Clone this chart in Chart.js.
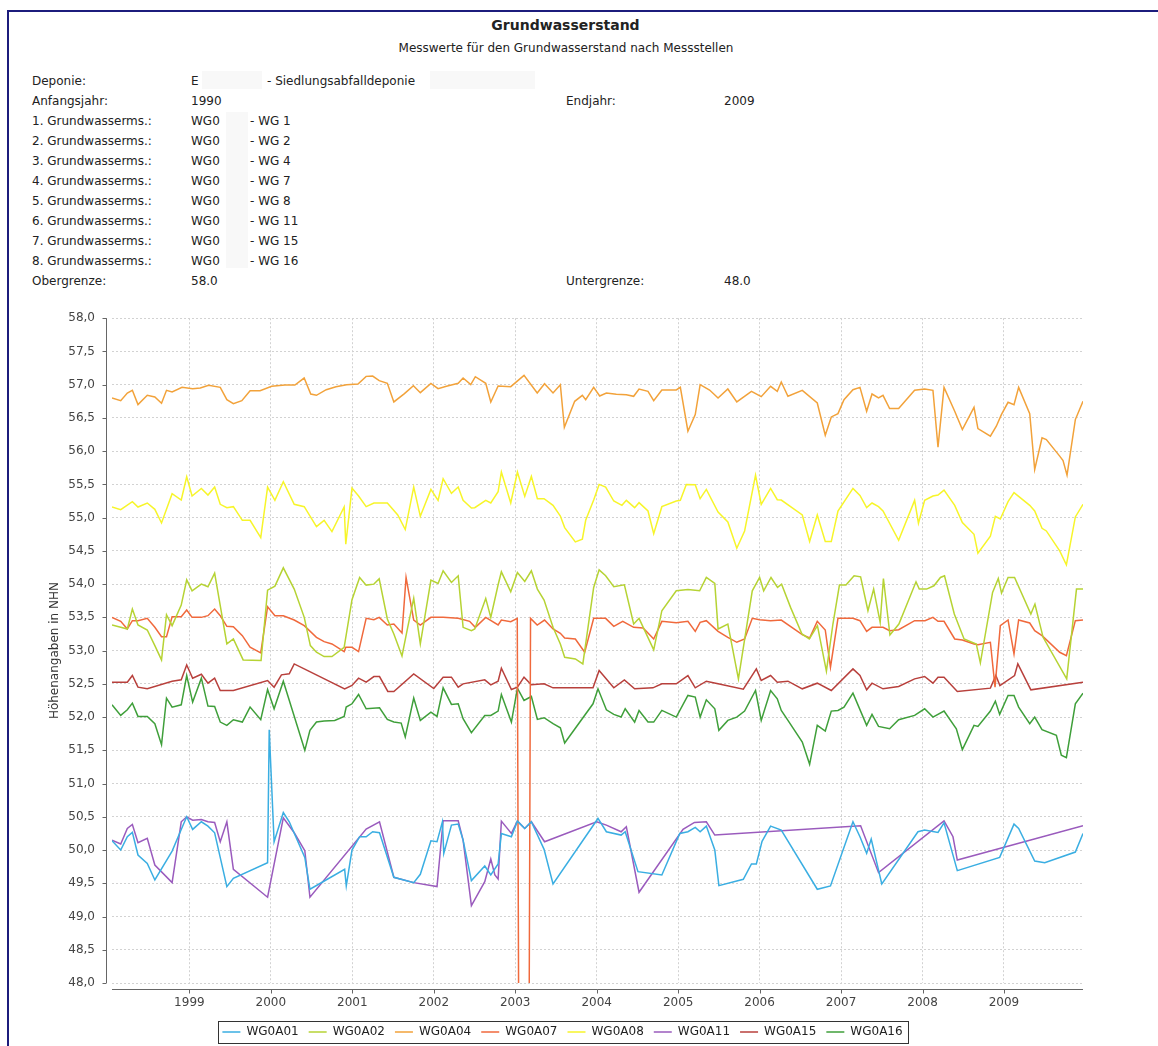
<!DOCTYPE html>
<html>
<head>
<meta charset="utf-8">
<title>Grundwasserstand</title>
<script src="https://cdn.jsdelivr.net/npm/chart.js"></script>
<style>
    body { margin: 0; background: #fff; font-family: "DejaVu Sans", sans-serif; color: #222; }
    #page { position: absolute; left: 0; top: 0; width: 1158px; height: 1046px; overflow: hidden; }
    #frame { position: absolute; left: 7px; top: 10px; width: 1300px; height: 1200px;
             border-top: 2px solid #1c1c7c; border-left: 2px solid #1c1c7c; }
    .t { position: absolute; font-size: 12px; line-height: 14px; white-space: nowrap; }
    .hide { position: absolute; background: #f8f8f8; height: 18px; }
    #title { position: absolute; left: 0; width: 1131px; top: 17px; text-align: center;
             font-weight: bold; font-size: 14px; }
    #subtitle { position: absolute; left: 0; width: 1132px; top: 41px; text-align: center; font-size: 12px; }
    #chartBox { position: absolute; left: 0; top: 294px; }
</style>
</head>
<body>
<div id="page">
    <div id="frame"></div>
    <div id="title">Grundwasserstand</div>
    <div id="subtitle">Messwerte für den Grundwasserstand nach Messstellen</div>

    <div class="hide" style="left:202px; top:71px; width:60px"></div>
    <div class="hide" style="left:430px; top:71px; width:105px"></div>
    <div class="hide" style="left:226px; top:112px; width:22px; height:156px"></div>

    <div class="t" style="left:32px; top:74px">Deponie:</div>
    <div class="t" style="left:191px; top:74px">E</div>
    <div class="t" style="left:267px; top:74px">- Siedlungsabfalldeponie</div>
    <div class="t" style="left:32px; top:94px">Anfangsjahr:</div>
    <div class="t" style="left:191px; top:94px">1990</div>
    <div class="t" style="left:566px; top:94px">Endjahr:</div>
    <div class="t" style="left:724px; top:94px">2009</div>
    <div class="t" style="left:32px; top:114px">1. Grundwasserms.:</div>
    <div class="t" style="left:191px; top:114px">WG0</div>
    <div class="t" style="left:250px; top:114px">- WG 1</div>
    <div class="t" style="left:32px; top:134px">2. Grundwasserms.:</div>
    <div class="t" style="left:191px; top:134px">WG0</div>
    <div class="t" style="left:250px; top:134px">- WG 2</div>
    <div class="t" style="left:32px; top:154px">3. Grundwasserms.:</div>
    <div class="t" style="left:191px; top:154px">WG0</div>
    <div class="t" style="left:250px; top:154px">- WG 4</div>
    <div class="t" style="left:32px; top:174px">4. Grundwasserms.:</div>
    <div class="t" style="left:191px; top:174px">WG0</div>
    <div class="t" style="left:250px; top:174px">- WG 7</div>
    <div class="t" style="left:32px; top:194px">5. Grundwasserms.:</div>
    <div class="t" style="left:191px; top:194px">WG0</div>
    <div class="t" style="left:250px; top:194px">- WG 8</div>
    <div class="t" style="left:32px; top:214px">6. Grundwasserms.:</div>
    <div class="t" style="left:191px; top:214px">WG0</div>
    <div class="t" style="left:250px; top:214px">- WG 11</div>
    <div class="t" style="left:32px; top:234px">7. Grundwasserms.:</div>
    <div class="t" style="left:191px; top:234px">WG0</div>
    <div class="t" style="left:250px; top:234px">- WG 15</div>
    <div class="t" style="left:32px; top:254px">8. Grundwasserms.:</div>
    <div class="t" style="left:191px; top:254px">WG0</div>
    <div class="t" style="left:250px; top:254px">- WG 16</div>
    <div class="t" style="left:32px; top:274px">Obergrenze:</div>
    <div class="t" style="left:191px; top:274px">58.0</div>
    <div class="t" style="left:566px; top:274px">Untergrenze:</div>
    <div class="t" style="left:724px; top:274px">48.0</div>

    <div id="chartBox"><canvas id="levels" width="1158" height="754"></canvas></div>
</div>

<script>
    // measurement dates (decimal years) and levels per well
    const a01Years = [1998.05, 1998.157, 1998.238, 1998.30, 1998.369, 1998.483, 1998.576, 1998.788, 1998.90, 1998.967, 1999.04, 1999.147, 1999.228, 1999.31, 1999.46, 1999.54, 1999.96, 1999.98, 2000.04, 2000.153, 2000.226, 2000.417, 2000.48, 2000.906, 2000.926, 2000.996, 2001.09, 2001.17, 2001.25, 2001.334, 2001.51, 2001.754, 2001.835, 2001.965, 2002.04, 2002.106, 2002.123, 2002.217, 2002.30, 2002.36, 2002.462, 2002.626, 2002.70, 2002.79, 2002.83, 2002.953, 2003.027, 2003.117, 2003.198, 2003.354, 2003.464, 2004.016, 2004.119, 2004.30, 2004.35, 2004.507, 2004.80, 2005.02, 2005.12, 2005.21, 2005.27, 2005.346, 2005.45, 2005.50, 2005.80, 2005.90, 2005.96, 2006.03, 2006.135, 2006.266, 2006.708, 2006.87, 2007.146, 2007.232, 2007.314, 2007.37, 2007.50, 2007.944, 2008.026, 2008.19, 2008.264, 2008.427, 2008.947, 2009.123, 2009.18, 2009.377, 2009.50, 2009.876, 2009.97];
    const a01Values = [50.14, 50.00, 50.20, 50.265, 49.925, 49.80, 49.55, 49.985, 50.31, 50.50, 50.31, 50.425, 50.36, 50.26, 49.45, 49.575, 49.81, 51.81, 50.125, 50.565, 50.425, 49.89, 49.41, 49.71, 49.46, 50.00, 50.20, 50.20, 50.275, 50.26, 49.59, 49.51, 49.635, 50.14, 50.125, 50.425, 49.95, 50.375, 50.39, 50.15, 49.54, 49.76, 49.625, 49.79, 50.25, 50.20, 50.435, 50.325, 50.425, 50.01, 49.49, 50.475, 50.275, 50.225, 50.275, 49.675, 49.625, 50.25, 50.275, 50.34, 50.275, 50.36, 50.00, 49.465, 49.56, 49.79, 49.79, 50.13, 50.36, 50.30, 49.41, 49.46, 50.425, 50.20, 49.95, 50.165, 49.49, 50.275, 50.30, 50.265, 50.41, 49.69, 49.89, 50.39, 50.325, 49.835, 49.81, 49.97, 50.25];

    const a02Years = [1998.05, 1998.157, 1998.238, 1998.30, 1998.369, 1998.483, 1998.576, 1998.658, 1998.719, 1998.788, 1998.90, 1998.967, 1999.033, 1999.147, 1999.228, 1999.31, 1999.46, 1999.54, 1999.66, 1999.88, 1999.96, 2000.05, 2000.153, 2000.287, 2000.41, 2000.485, 2000.56, 2000.654, 2000.75, 2000.90, 2000.996, 2001.09, 2001.17, 2001.265, 2001.33, 2001.43, 2001.51, 2001.61, 2001.68, 2001.754, 2001.835, 2001.965, 2002.053, 2002.115, 2002.217, 2002.30, 2002.36, 2002.462, 2002.503, 2002.638, 2002.70, 2002.79, 2002.83, 2002.945, 2003.027, 2003.117, 2003.198, 2003.272, 2003.354, 2003.464, 2003.554, 2003.607, 2003.738, 2003.83, 2003.963, 2004.03, 2004.11, 2004.21, 2004.34, 2004.454, 2004.52, 2004.70, 2004.80, 2004.977, 2005.12, 2005.264, 2005.346, 2005.45, 2005.49, 2005.61, 2005.74, 2005.91, 2006.0, 2006.05, 2006.14, 2006.22, 2006.27, 2006.38, 2006.52, 2006.61, 2006.71, 2006.82, 2006.90, 2006.98, 2007.06, 2007.16, 2007.24, 2007.33, 2007.40, 2007.48, 2007.52, 2007.60, 2007.71, 2007.92, 2007.96, 2008.05, 2008.14, 2008.22, 2008.27, 2008.39, 2008.51, 2008.66, 2008.71, 2008.86, 2008.93, 2008.97, 2009.05, 2009.13, 2009.33, 2009.38, 2009.48, 2009.77, 2009.89, 2009.97];
    const a02Values = [53.385, 53.35, 53.325, 53.625, 53.385, 53.31, 53.075, 52.86, 53.54, 53.375, 53.685, 54.065, 53.90, 54.0, 53.96, 54.165, 53.10, 53.175, 52.86, 52.85, 53.91, 53.97, 54.245, 53.925, 53.50, 53.075, 52.975, 52.91, 52.91, 53.05, 53.765, 54.10, 53.985, 54.0, 54.08, 53.475, 53.25, 52.92, 53.35, 53.785, 53.10, 54.06, 54.01, 54.20, 54.025, 54.125, 53.35, 53.30, 53.325, 53.785, 53.50, 53.99, 54.185, 53.885, 54.175, 54.04, 54.20, 53.925, 53.76, 53.35, 53.10, 52.90, 52.875, 52.80, 53.95, 54.215, 54.125, 53.96, 53.99, 53.40, 53.485, 53.01, 53.60, 53.90, 53.92, 53.90, 54.10, 54.01, 53.325, 53.40, 52.575, 53.90, 54.10, 53.90, 54.10, 53.95, 54.0, 53.65, 53.25, 53.175, 53.375, 52.69, 53.40, 53.985, 53.985, 54.125, 54.11, 53.60, 53.925, 53.425, 54.085, 53.235, 53.40, 54.035, 53.925, 53.925, 53.975, 54.10, 54.125, 53.55, 53.175, 53.10, 52.815, 53.875, 54.085, 53.865, 54.10, 54.10, 53.55, 53.70, 53.20, 52.575, 53.925, 53.925];

    const a04Years = [1998.05, 1998.157, 1998.238, 1998.30, 1998.369, 1998.483, 1998.576, 1998.658, 1998.719, 1998.788, 1998.91, 1999.04, 1999.134, 1999.236, 1999.379, 1999.46, 1999.54, 1999.644, 1999.745, 1999.868, 2000.01, 2000.173, 2000.295, 2000.409, 2000.49, 2000.56, 2000.68, 2000.80, 2000.93, 2001.07, 2001.17, 2001.25, 2001.33, 2001.43, 2001.51, 2001.64, 2001.75, 2001.835, 2001.965, 2002.053, 2002.155, 2002.30, 2002.36, 2002.454, 2002.51, 2002.638, 2002.70, 2002.79, 2002.945, 2003.108, 2003.27, 2003.36, 2003.464, 2003.554, 2003.603, 2003.73, 2003.824, 2003.865, 2003.963, 2004.037, 2004.119, 2004.241, 2004.364, 2004.454, 2004.52, 2004.63, 2004.70, 2004.80, 2004.977, 2005.027, 2005.12, 2005.21, 2005.27, 2005.386, 2005.49, 2005.61, 2005.72, 2005.90, 2006.02, 2006.135, 2006.217, 2006.266, 2006.348, 2006.524, 2006.708, 2006.806, 2006.88, 2006.962, 2007.036, 2007.146, 2007.232, 2007.314, 2007.38, 2007.46, 2007.515, 2007.596, 2007.707, 2007.903, 2008.026, 2008.128, 2008.19, 2008.264, 2008.395, 2008.489, 2008.632, 2008.68, 2008.833, 2008.906, 2008.968, 2009.05, 2009.123, 2009.18, 2009.316, 2009.377, 2009.467, 2009.52, 2009.684, 2009.725, 2009.774, 2009.876, 2009.97];
    const a04Values = [56.80, 56.76, 56.875, 56.915, 56.70, 56.84, 56.815, 56.72, 56.915, 56.89, 56.96, 56.94, 56.95, 56.99, 56.96, 56.775, 56.715, 56.76, 56.91, 56.91, 56.975, 56.995, 56.995, 57.10, 56.86, 56.84, 56.925, 56.97, 57.0, 57.01, 57.125, 57.13, 57.06, 57.02, 56.74, 56.865, 56.985, 56.88, 57.02, 56.94, 56.975, 57.02, 57.10, 57.0, 57.12, 57.02, 56.74, 56.98, 56.97, 57.14, 56.875, 57.015, 56.875, 57.0, 56.36, 56.75, 56.84, 56.775, 56.96, 56.83, 56.875, 56.855, 56.85, 56.825, 56.935, 56.90, 56.76, 56.92, 56.92, 56.96, 56.30, 56.55, 57.0, 56.92, 56.80, 56.935, 56.74, 56.90, 56.82, 56.975, 56.90, 57.04, 56.825, 56.915, 56.725, 56.24, 56.515, 56.565, 56.775, 56.925, 56.96, 56.60, 56.86, 56.80, 56.84, 56.64, 56.64, 56.915, 56.935, 56.915, 56.06, 56.96, 56.60, 56.325, 56.66, 56.34, 56.225, 56.375, 56.55, 56.735, 56.70, 56.96, 56.565, 55.725, 56.20, 56.175, 55.925, 55.86, 55.64, 56.475, 56.75];

    // the 2003 reading of WG0A07 lies far below the axis range and is clipped
    const a07Years = [1998.05, 1998.157, 1998.238, 1998.30, 1998.369, 1998.483, 1998.576, 1998.658, 1998.719, 1998.788, 1998.90, 1998.967, 1999.033, 1999.147, 1999.228, 1999.31, 1999.379, 1999.46, 1999.54, 1999.65, 1999.745, 1999.876, 1999.96, 2000.05, 2000.153, 2000.287, 2000.41, 2000.56, 2000.654, 2000.75, 2000.90, 2000.92, 2000.996, 2001.077, 2001.17, 2001.265, 2001.33, 2001.43, 2001.51, 2001.61, 2001.66, 2001.754, 2001.835, 2001.965, 2002.115, 2002.30, 2002.44, 2002.51, 2002.638, 2002.79, 2002.83, 2002.945, 2003.025, 2003.107, 2003.188, 2003.27, 2003.36, 2003.464, 2003.554, 2003.607, 2003.738, 2003.853, 2003.963, 2004.11, 2004.21, 2004.32, 2004.454, 2004.57, 2004.70, 2004.80, 2004.977, 2005.12, 2005.21, 2005.27, 2005.346, 2005.49, 2005.61, 2005.72, 2005.816, 2005.91, 2006.0, 2006.135, 2006.266, 2006.524, 2006.614, 2006.708, 2006.806, 2006.87, 2006.962, 2007.146, 2007.232, 2007.314, 2007.38, 2007.515, 2007.596, 2007.707, 2007.903, 2008.03, 2008.128, 2008.19, 2008.264, 2008.395, 2008.489, 2008.632, 2008.68, 2008.833, 2008.89, 2008.955, 2009.05, 2009.123, 2009.18, 2009.316, 2009.377, 2009.467, 2009.684, 2009.766, 2009.876, 2009.97];
    const a07Values = [53.50, 53.44, 53.325, 53.45, 53.45, 53.485, 53.35, 53.21, 53.21, 53.51, 53.51, 53.61, 53.50, 53.50, 53.525, 53.625, 53.525, 53.365, 53.36, 53.225, 53.05, 52.965, 53.66, 53.525, 53.525, 53.46, 53.375, 53.20, 53.135, 53.10, 52.985, 53.05, 53.05, 52.985, 53.485, 53.465, 53.50, 53.385, 53.40, 53.265, 54.10, 53.46, 53.385, 53.50, 53.50, 53.485, 53.44, 53.35, 53.50, 53.385, 53.46, 53.435, 53.485, 25.5, 53.485, 53.385, 53.46, 53.325, 53.26, 53.19, 53.175, 52.975, 53.485, 53.485, 53.365, 53.44, 53.35, 53.34, 53.175, 53.44, 53.42, 53.44, 53.29, 53.425, 53.45, 53.29, 53.20, 53.125, 53.175, 53.485, 53.465, 53.45, 53.46, 53.24, 53.19, 53.44, 53.31, 52.75, 53.485, 53.485, 53.45, 53.29, 53.35, 53.35, 53.30, 53.315, 53.45, 53.45, 53.50, 53.44, 53.44, 53.175, 53.16, 53.10, 53.09, 53.125, 52.45, 53.375, 53.46, 52.95, 53.46, 53.415, 53.30, 53.225, 52.975, 52.925, 53.45, 53.46];

    const a08Years = [1998.05, 1998.157, 1998.30, 1998.369, 1998.483, 1998.576, 1998.658, 1998.788, 1998.90, 1998.967, 1999.033, 1999.147, 1999.228, 1999.31, 1999.379, 1999.46, 1999.54, 1999.65, 1999.745, 1999.876, 1999.96, 2000.05, 2000.153, 2000.287, 2000.41, 2000.56, 2000.654, 2000.75, 2000.90, 2000.92, 2000.996, 2001.077, 2001.17, 2001.265, 2001.43, 2001.558, 2001.65, 2001.754, 2001.835, 2001.965, 2002.053, 2002.115, 2002.217, 2002.30, 2002.36, 2002.462, 2002.503, 2002.638, 2002.70, 2002.79, 2002.83, 2002.945, 2003.027, 2003.117, 2003.198, 2003.272, 2003.354, 2003.464, 2003.554, 2003.607, 2003.738, 2003.824, 2003.865, 2003.963, 2004.03, 2004.11, 2004.21, 2004.31, 2004.364, 2004.466, 2004.52, 2004.63, 2004.70, 2004.80, 2004.977, 2005.027, 2005.10, 2005.21, 2005.27, 2005.346, 2005.49, 2005.61, 2005.72, 2005.816, 2005.95, 2006.02, 2006.135, 2006.217, 2006.266, 2006.524, 2006.614, 2006.708, 2006.806, 2006.88, 2006.962, 2007.146, 2007.232, 2007.314, 2007.38, 2007.46, 2007.515, 2007.707, 2007.903, 2007.95, 2008.026, 2008.128, 2008.19, 2008.264, 2008.395, 2008.489, 2008.632, 2008.68, 2008.833, 2008.894, 2008.955, 2009.05, 2009.123, 2009.316, 2009.377, 2009.467, 2009.52, 2009.684, 2009.766, 2009.876, 2009.97];
    const a08Values = [55.16, 55.12, 55.24, 55.16, 55.22, 55.125, 54.92, 55.36, 55.265, 55.615, 55.325, 55.44, 55.34, 55.46, 55.20, 55.15, 55.165, 54.96, 54.96, 54.70, 55.46, 55.26, 55.54, 55.20, 55.165, 54.865, 54.96, 54.79, 55.16, 54.60, 55.445, 55.325, 55.165, 55.22, 55.22, 55.04, 54.82, 55.46, 55.02, 55.425, 55.26, 55.585, 55.365, 55.46, 55.26, 55.145, 55.15, 55.26, 55.22, 55.39, 55.685, 55.22, 55.685, 55.32, 55.62, 55.285, 55.285, 55.185, 55.025, 54.85, 54.635, 54.675, 54.96, 55.265, 55.50, 55.46, 55.25, 55.185, 55.26, 55.15, 55.225, 55.10, 54.76, 55.165, 55.25, 55.26, 55.50, 55.495, 55.285, 55.425, 55.085, 54.935, 54.54, 54.80, 55.64, 55.20, 55.44, 55.27, 55.265, 55.04, 54.64, 55.04, 54.64, 54.64, 55.10, 55.44, 55.335, 55.15, 55.22, 55.165, 55.10, 54.66, 55.26, 54.915, 55.26, 55.325, 55.34, 55.415, 55.185, 54.925, 54.75, 54.465, 54.72, 55.02, 54.98, 55.24, 55.375, 55.185, 55.10, 54.84, 54.80, 54.50, 54.29, 55.01, 55.20];

    const a11Years = [1998.05, 1998.157, 1998.238, 1998.30, 1998.369, 1998.483, 1998.576, 1998.788, 1998.90, 1998.967, 1999.04, 1999.147, 1999.228, 1999.31, 1999.379, 1999.46, 1999.54, 1999.96, 2000.153, 2000.287, 2000.417, 2000.48, 2001.17, 2001.334, 2001.51, 2001.754, 2002.04, 2002.115, 2002.30, 2002.36, 2002.462, 2002.626, 2002.70, 2002.75, 2002.79, 2002.83, 2002.953, 2003.027, 2003.117, 2003.198, 2003.36, 2004.0, 2004.119, 2004.30, 2004.364, 2004.52, 2005.06, 2005.20, 2005.346, 2005.45, 2007.24, 2007.46, 2008.264, 2008.374, 2008.427, 2009.97];
    const a11Values = [50.15, 50.09, 50.325, 50.385, 50.11, 50.175, 49.775, 49.51, 50.425, 50.50, 50.45, 50.46, 50.425, 50.415, 50.125, 50.425, 49.71, 49.29, 50.485, 50.26, 49.99, 49.29, 50.315, 50.425, 49.59, 49.51, 49.45, 50.44, 50.44, 50.15, 49.165, 49.525, 49.865, 49.625, 49.565, 50.435, 50.25, 50.435, 50.325, 50.425, 50.125, 50.425, 50.375, 50.275, 50.35, 49.365, 50.31, 50.415, 50.425, 50.225, 50.365, 49.66, 50.44, 50.20, 49.85, 50.365];

    const a15Years = [1998.05, 1998.238, 1998.30, 1998.369, 1998.483, 1998.788, 1998.90, 1998.967, 1999.04, 1999.147, 1999.228, 1999.31, 1999.379, 1999.54, 1999.96, 2000.04, 2000.13, 2000.226, 2000.287, 2000.906, 2000.996, 2001.077, 2001.17, 2001.265, 2001.334, 2001.436, 2001.51, 2001.754, 2002.0, 2002.115, 2002.217, 2002.30, 2002.36, 2002.626, 2002.70, 2002.79, 2002.83, 2002.953, 2003.027, 2003.108, 2003.198, 2003.354, 2003.464, 2003.955, 2004.03, 2004.21, 2004.34, 2004.466, 2004.69, 2004.80, 2004.977, 2005.12, 2005.21, 2005.346, 2005.49, 2005.80, 2005.96, 2006.02, 2006.135, 2006.217, 2006.348, 2006.524, 2006.708, 2006.88, 2007.146, 2007.232, 2007.314, 2007.38, 2007.515, 2007.707, 2007.903, 2008.026, 2008.128, 2008.19, 2008.264, 2008.427, 2008.833, 2008.90, 2008.95, 2009.13, 2009.17, 2009.33, 2009.97];
    const a15Values = [52.525, 52.525, 52.625, 52.45, 52.425, 52.54, 52.56, 52.785, 52.585, 52.645, 52.51, 52.585, 52.40, 52.40, 52.55, 52.45, 52.635, 52.65, 52.80, 52.425, 52.475, 52.585, 52.525, 52.61, 52.61, 52.385, 52.385, 52.65, 52.43, 52.60, 52.60, 52.45, 52.50, 52.56, 52.485, 52.54, 52.735, 52.415, 52.45, 52.60, 52.485, 52.50, 52.44, 52.44, 52.70, 52.44, 52.56, 52.425, 52.44, 52.50, 52.50, 52.625, 52.44, 52.54, 52.50, 52.42, 52.725, 52.55, 52.625, 52.525, 52.54, 52.425, 52.51, 52.40, 52.725, 52.625, 52.41, 52.51, 52.425, 52.46, 52.575, 52.61, 52.51, 52.60, 52.60, 52.385, 52.435, 52.625, 52.475, 52.625, 52.80, 52.41, 52.525];

    const a16Years = [1998.05, 1998.157, 1998.238, 1998.30, 1998.369, 1998.483, 1998.576, 1998.658, 1998.719, 1998.788, 1998.90, 1998.967, 1999.04, 1999.147, 1999.228, 1999.31, 1999.379, 1999.46, 1999.54, 1999.65, 1999.745, 1999.876, 1999.96, 2000.04, 2000.153, 2000.417, 2000.48, 2000.56, 2000.654, 2000.784, 2000.90, 2000.925, 2000.996, 2001.077, 2001.17, 2001.334, 2001.43, 2001.51, 2001.60, 2001.65, 2001.754, 2001.835, 2001.965, 2002.04, 2002.115, 2002.217, 2002.30, 2002.36, 2002.462, 2002.626, 2002.70, 2002.79, 2002.83, 2002.953, 2003.027, 2003.108, 2003.198, 2003.272, 2003.354, 2003.464, 2003.554, 2003.607, 2003.955, 2004.016, 2004.119, 2004.21, 2004.30, 2004.35, 2004.466, 2004.52, 2004.63, 2004.70, 2004.80, 2004.977, 2005.12, 2005.21, 2005.27, 2005.346, 2005.45, 2005.50, 2005.61, 2005.72, 2005.816, 2005.95, 2006.02, 2006.135, 2006.217, 2006.266, 2006.348, 2006.524, 2006.614, 2006.708, 2006.806, 2006.88, 2006.962, 2007.036, 2007.146, 2007.314, 2007.38, 2007.46, 2007.596, 2007.707, 2007.903, 2008.026, 2008.128, 2008.264, 2008.415, 2008.489, 2008.632, 2008.68, 2008.833, 2008.894, 2008.947, 2009.05, 2009.123, 2009.18, 2009.316, 2009.377, 2009.467, 2009.643, 2009.704, 2009.766, 2009.876, 2009.97];
    const a16Values = [52.185, 52.025, 52.11, 52.21, 52.01, 52.01, 51.90, 51.585, 52.285, 52.15, 52.185, 52.625, 52.225, 52.585, 52.165, 52.16, 51.925, 51.875, 51.96, 51.925, 52.15, 51.96, 52.415, 52.125, 52.54, 51.50, 51.80, 51.925, 51.94, 51.95, 52.01, 52.15, 52.20, 52.34, 52.125, 52.14, 51.965, 51.925, 51.91, 51.70, 52.285, 51.95, 52.075, 52.01, 52.44, 52.19, 52.20, 51.975, 51.765, 52.025, 52.025, 52.09, 52.34, 51.925, 52.435, 52.25, 52.31, 51.965, 51.99, 51.90, 51.84, 51.61, 52.20, 52.425, 52.11, 52.04, 52.00, 52.125, 51.925, 52.10, 51.925, 51.925, 52.10, 52.00, 52.325, 52.30, 52.00, 52.26, 52.125, 51.80, 51.95, 52.00, 52.09, 52.40, 51.95, 52.40, 52.275, 52.10, 51.95, 51.625, 51.29, 51.875, 51.79, 52.09, 52.10, 52.15, 52.36, 51.875, 52.04, 51.86, 51.825, 51.96, 52.025, 52.125, 52.00, 52.09, 51.825, 51.51, 51.875, 51.86, 52.09, 52.24, 52.04, 52.325, 52.325, 52.15, 51.90, 52.00, 51.81, 51.725, 51.425, 51.39, 52.20, 52.36];

    const wellNames = ['WG0A01', 'WG0A02', 'WG0A04', 'WG0A07', 'WG0A08', 'WG0A11', 'WG0A15', 'WG0A16'];
    const yearTicks = [1999, 2000, 2001, 2002, 2003, 2004, 2005, 2006, 2007, 2008, 2009];
    const levelTicks = [48, 48.5, 49, 49.5, 50, 50.5, 51, 51.5, 52, 52.5, 53, 53.5, 54, 54.5, 55, 55.5, 56, 56.5, 57, 57.5, 58];

    const wells = [
        [a01Years, a01Values, '#3aaee2'],
        [a02Years, a02Values, '#b6d334'],
        [a04Years, a04Values, '#f2a23a'],
        [a07Years, a07Values, '#f0693c'],
        [a08Years, a08Values, '#f7f52a'],
        [a11Years, a11Values, '#9a5bbd'],
        [a15Years, a15Values, '#b8403c'],
        [a16Years, a16Values, '#3f9f3a'],
    ];

    const font = { family: '"DejaVu Sans", sans-serif', size: 12 };

    // JFreeChart style: axis lines offset from the plot, small tick marks, boxed legend
    const axisLines = {
        id: 'axisLines',
        afterDraw(chart) {
            const { ctx, chartArea: a, scales } = chart;
            ctx.save();
            ctx.strokeStyle = '#666';
            ctx.lineWidth = 1;
            ctx.beginPath();
            const ax = Math.round(a.left) - 6 + 0.5;
            ctx.moveTo(ax, a.top);
            ctx.lineTo(ax, a.bottom);
            scales.y.ticks.forEach(t => {
                const py = Math.round(scales.y.getPixelForValue(t.value)) + 0.5;
                ctx.moveTo(ax - 4, py);
                ctx.lineTo(ax, py);
            });
            const ay = Math.round(a.bottom) + 6 + 0.5;
            ctx.moveTo(a.left, ay);
            ctx.lineTo(a.right, ay);
            scales.x.ticks.forEach(t => {
                const px = Math.round(scales.x.getPixelForValue(t.value)) + 0.5;
                ctx.moveTo(px, ay);
                ctx.lineTo(px, ay + 4);
            });
            ctx.stroke();

            const boxes = chart.legend.legendHitBoxes;
            if (boxes && boxes.length) {
                const left = Math.min(...boxes.map(b => b.left)) - 4;
                const right = Math.max(...boxes.map(b => b.left + b.width)) + 6;
                const top = boxes[0].top - 5;
                const h = boxes[0].height + 10;
                ctx.strokeStyle = '#333';
                ctx.strokeRect(Math.round(left) + 0.5, Math.round(top) + 0.5, Math.round(right - left), Math.round(h));
            }
            ctx.restore();
        }
    };

    new Chart(document.getElementById('levels'), {
        type: 'line',
        data: {
            datasets: wells.map(([years, values, color], i) => ({
                label: wellNames[i],
                data: years.map((x, j) => ({ x: x, y: values[j] })),
                borderColor: color,
                backgroundColor: color,
                borderWidth: 1.5,
                pointRadius: 0,
                tension: 0,
                fill: false
            }))
        },
        options: {
            responsive: false,
            animation: false,
            events: [],
            layout: { padding: { left: 42, right: 75, top: 5, bottom: 0 } },
            scales: {
                x: {
                    type: 'linear',
                    min: 1998.05,
                    max: 2009.97,
                    afterBuildTicks: s => { s.ticks = yearTicks.map(v => ({ value: v })); },
                    afterFit: s => { s.height = 33; },
                    ticks: { color: '#444', font: font, padding: 13, autoSkip: false, maxRotation: 0,
                             callback: v => String(v) },
                    grid: { color: '#d2d2d2', drawTicks: false },
                    border: { display: false, dash: [2, 2] }
                },
                y: {
                    min: 48,
                    max: 58,
                    afterBuildTicks: s => { s.ticks = levelTicks.map(v => ({ value: v })); },
                    afterFit: s => { s.width = 70; },
                    ticks: { color: '#444', font: font, padding: 17, autoSkip: false,
                             callback: v => v.toFixed(1).replace('.', ',') },
                    grid: { color: '#d2d2d2', drawTicks: false },
                    border: { display: false, dash: [2, 2] },
                    title: { display: true, text: 'Höhenangaben in NHN', color: '#333', font: font,
                             padding: { top: 6, bottom: 4 } }
                }
            },
            plugins: {
                legend: {
                    position: 'bottom',
                    labels: { usePointStyle: true, pointStyle: 'line', pointStyleWidth: 18,
                              color: '#222', font: font, padding: 10 }
                },
                tooltip: { enabled: false }
            }
        },
        plugins: [axisLines]
    });
</script>
</body>
</html>
